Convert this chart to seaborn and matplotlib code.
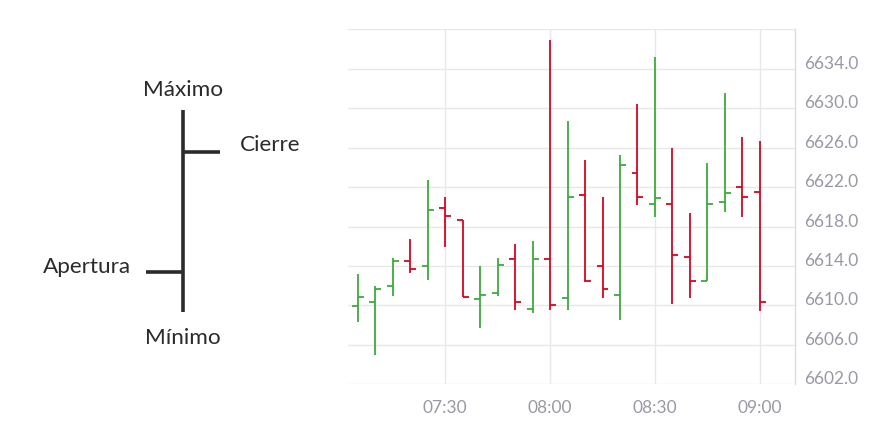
"""
OHLC bar chart (intraday) with an explanatory key on the left.
"""
import pandas as pd
import numpy as np
import matplotlib
matplotlib.use("Agg")
import matplotlib.pyplot as plt
import matplotlib.dates as mdates
import seaborn as sns

sns.set_theme(style="whitegrid")
plt.rcParams["font.family"] = ["Lato", "DejaVu Sans"]

# --- data ------------------------------------------------------------------
times = ["07:05", "07:10", "07:15", "07:20", "07:25", "07:30", "07:35", "07:40",
         "07:45", "07:50", "07:55", "08:00", "08:05", "08:10", "08:15", "08:20",
         "08:25", "08:30", "08:35", "08:40", "08:45", "08:50", "08:55", "09:00"]
open_ = [6609.9, 6610.3, 6612.0, 6614.5, 6614.0, 6619.9, 6618.7, 6610.6,
         6611.3, 6614.7, 6609.6, 6614.7, 6610.8, 6621.2, 6614.0, 6611.1,
         6623.4, 6620.3, 6620.3, 6614.9, 6612.5, 6620.5, 6622.0, 6621.5]
high = [6613.2, 6612.0, 6614.8, 6616.7, 6622.7, 6621.0, 6618.7, 6614.0,
        6614.8, 6616.2, 6616.5, 6636.9, 6628.7, 6624.7, 6621.0, 6625.3,
        6630.4, 6635.2, 6626.0, 6619.4, 6624.4, 6631.5, 6627.1, 6626.7]
low = [6608.3, 6605.0, 6611.0, 6613.3, 6612.6, 6615.9, 6610.9, 6607.7,
       6611.0, 6609.5, 6609.2, 6609.5, 6609.5, 6612.4, 6610.8, 6608.5,
       6620.2, 6619.0, 6610.1, 6610.8, 6612.5, 6619.5, 6619.0, 6609.4]
close = [6610.9, 6611.7, 6614.5, 6613.7, 6619.7, 6619.1, 6610.9, 6611.1,
         6614.1, 6610.3, 6614.7, 6610.0, 6621.0, 6612.5, 6611.7, 6624.2,
         6621.0, 6620.9, 6615.1, 6612.5, 6620.3, 6621.4, 6621.0, 6610.3]

y_ticks = [6602, 6606, 6610, 6614, 6618, 6622, 6626, 6630, 6634, 6638]
y_labels = ["6602.0", "6606.0", "6610.0", "6614.0", "6618.0", "6622.0",
            "6626.0", "6630.0", "6634.0", ""]
x_ticks = ["07:30", "08:00", "08:30", "09:00"]

UP = "#3cab3c"
DOWN = "#d9031f"
GREY = "#9b98a6"
DARK = "#2b2b2b"


def to_num(hhmm):
    return mdates.date2num(pd.Timestamp("2024-01-02 " + hhmm))


df = pd.DataFrame({"time": times, "open": open_, "high": high,
                   "low": low, "close": close})
df["x"] = df["time"].map(to_num)
df["color"] = np.where(df["close"] >= df["open"], UP, DOWN)

fig = plt.figure(figsize=(8.84, 4.4), dpi=100)

# --- key on the left (pixel coordinates) ------------------------------------
key = fig.add_axes([0, 0, 1, 1])
key.set_xlim(0, 884)
key.set_ylim(440, 0)
key.axis("off")
key.patch.set_alpha(0)
key.plot([183, 183], [110, 312], color=DARK, lw=2.6, solid_capstyle="butt")
key.plot([183, 220], [152, 152], color=DARK, lw=2.6, solid_capstyle="butt")
key.plot([146, 183], [272, 272], color=DARK, lw=2.6, solid_capstyle="butt")
kfont = dict(fontsize=16.2, color=DARK)
key.text(183, 90, "Máximo", ha="center", va="center", **kfont)
key.text(183, 338, "Mínimo", ha="center", va="center", **kfont)
key.text(240, 145, "Cierre", ha="left", va="center", **kfont)
key.text(131, 267, "Apertura", ha="right", va="center", **kfont)

# --- OHLC chart ---------------------------------------------------------------
ax = fig.add_axes([348 / 884, 1 - 384.3 / 440, (795.3 - 348) / 884, (384.3 - 29.3) / 440])
ax.set_facecolor("none")
tick_w = 1.7 / (24 * 60)  # 1.7 minutes
ax.vlines(df["x"], df["low"], df["high"], colors=df["color"], lw=1.3, zorder=3)
ax.hlines(df["open"], df["x"] - tick_w, df["x"], colors=df["color"], lw=1.3, zorder=3)
ax.hlines(df["close"], df["x"], df["x"] + tick_w, colors=df["color"], lw=1.3, zorder=3)

ax.set_xlim(to_num("07:02:10"), to_num("09:10:10"))
ax.set_ylim(y_ticks[0], y_ticks[-1])
ax.set_xticks([to_num(t) for t in x_ticks])
ax.set_xticklabels(x_ticks)
ax.set_yticks(y_ticks)
ax.set_yticklabels(y_labels, va="baseline")
ax.yaxis.tick_right()
ax.tick_params(axis="both", length=0, labelsize=12.5, labelcolor=GREY)
ax.tick_params(axis="y", pad=6)
ax.tick_params(axis="x", pad=11)
ax.grid(True, color="#e8e8e8", lw=1)
for side in ["left", "top", "bottom"]:
    ax.spines[side].set_visible(False)
ax.spines["right"].set_color("#dcdcdc")
ax.spines["right"].set_linewidth(1)

fig.savefig("out.png", dpi=100)
